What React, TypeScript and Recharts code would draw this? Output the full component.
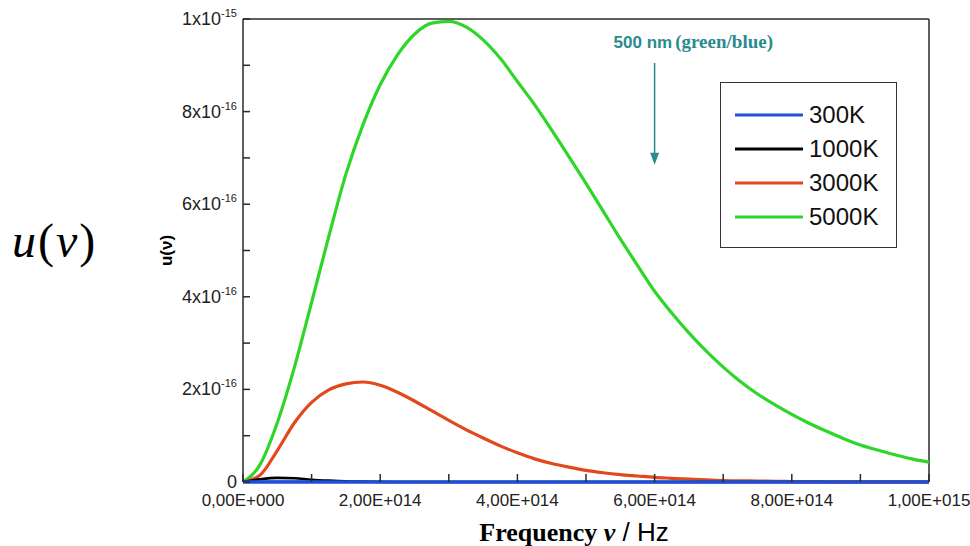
import { LineChart, Line, XAxis, YAxis, ReferenceLine, Legend } from 'recharts';

// frequency in units of 1e14 Hz, energy density u(v) in units of 1e-16
const freq = [
  0, 0.25, 0.5, 0.75, 1, 1.25, 1.5, 1.75, 2, 2.25, 2.5, 2.75, 3, 3.25, 3.5, 3.75, 4, 4.25, 4.5, 4.75, 5,
  5.25, 5.5, 5.75, 6, 6.25, 6.5, 6.75, 7, 7.25, 7.5, 7.75, 8, 8.25, 8.5, 8.75, 9, 9.25, 9.5, 9.75, 10,
];
const u300K = [
  0, 0.001, 0.002, 0.001, 0.001, 0, 0, 0, 0, 0, 0, 0, 0, 0, 0, 0, 0, 0, 0, 0, 0,
  0, 0, 0, 0, 0, 0, 0, 0, 0, 0, 0, 0, 0, 0, 0, 0, 0, 0, 0, 0,
];
const u1000K = [
  0, 0.06, 0.09, 0.08, 0.05, 0.03, 0.015, 0.008, 0.003, 0, 0, 0, 0, 0, 0, 0, 0, 0, 0, 0, 0,
  0, 0, 0, 0, 0, 0, 0, 0, 0, 0, 0, 0, 0, 0, 0, 0, 0, 0, 0, 0,
];
const u3000K = [
  0, 0.15, 0.68, 1.28, 1.72, 1.99, 2.12, 2.16, 2.09, 1.94, 1.75, 1.54, 1.33, 1.13, 0.95, 0.78, 0.63, 0.5, 0.4, 0.32, 0.25,
  0.2, 0.16, 0.13, 0.1, 0.08, 0.06, 0.045, 0.03, 0.025, 0.02, 0.015, 0.01, 0.008, 0.005, 0.004, 0.003, 0.002, 0.001, 0.001, 0,
];
const u5000K = [
  0, 0.38, 1.28, 2.48, 3.88, 5.3, 6.65, 7.72, 8.58, 9.22, 9.67, 9.91, 9.95, 9.83, 9.55, 9.15, 8.65, 8.15, 7.6, 7.03, 6.45,
  5.85, 5.25, 4.68, 4.12, 3.65, 3.22, 2.83, 2.48, 2.17, 1.9, 1.67, 1.46, 1.27, 1.1, 0.94, 0.8, 0.69, 0.59, 0.5, 0.43,
];

const seriesNames = ['300K', '1000K', '3000K', '5000K'];
const seriesColors = ['#1f4fd6', '#000000', '#e2481c', '#2fd62a'];

const xTicks = [0, 1, 2, 3, 4, 5, 6, 7, 8, 9, 10];
const xTickLabels = ['0,00E+000', '2,00E+014', '4,00E+014', '6,00E+014', '8,00E+014', '1,00E+015'];
const yTicks = [0, 1, 2, 3, 4, 5, 6, 7, 8, 9, 10];
const yTickBases = ['0', '2x10', '4x10', '6x10', '8x10', '1x10'];
const yTickExps = ['', '-16', '-16', '-16', '-16', '-15'];

const markerFreq = 6; // 500 nm
const markerTop = 9.05;
const markerTip = 6.85;

const sans = '"Liberation Sans", Arial, sans-serif';
const serif = '"Liberation Serif", "Times New Roman", serif';
const axisColor = '#2a2a2a';
const teal = '#2a8a8e';
const tickStyle = { stroke: axisColor, strokeWidth: 1.5 };

const chartData = freq.map((f, i) => ({
  f,
  t300: u300K[i],
  t1000: u1000K[i],
  t3000: u3000K[i],
  t5000: u5000K[i],
}));

// tick lines are drawn by recharts (pointing inward), these only draw the labels
function BottomTick({ x, y, payload }: any) {
  const v = payload.value;
  if (v % 2 !== 0) return <g />;
  return (
    <text x={x} y={y + 24} textAnchor="middle" fontFamily={sans} fontSize={17} fill="#222">
      {xTickLabels[v / 2]}
    </text>
  );
}

function LeftTick({ x, y, payload }: any) {
  const v = payload.value;
  if (v % 2 !== 0) return <g />;
  const idx = v / 2;
  return (
    <text x={x} y={y + 6} textAnchor="end" fontFamily={sans} fontSize={18} fill="#222">
      {yTickBases[idx]}
      {yTickExps[idx] && (
        <tspan dy={-8} fontSize={11}>
          {yTickExps[idx]}
        </tspan>
      )}
    </text>
  );
}

function ArrowNote(props: any) {
  const { x1, y1, x2, y2 } = props;
  return (
    <g>
      <text x={x1 - 41} y={y1 - 15} fill={teal}>
        <tspan fontFamily={sans} fontWeight="bold" fontSize={17}>500 nm</tspan>
        <tspan dx={3} fontFamily={serif} fontWeight="bold" fontSize={19}>(green/blue)</tspan>
      </text>
      <line x1={x1} y1={y1} x2={x2} y2={y2 - 10} stroke={teal} strokeWidth={1.5} />
      <path d={`M${x2 - 4.5},${y2 - 12} L${x2 + 4.5},${y2 - 12} L${x2},${y2} Z`} fill={teal} />
    </g>
  );
}

function LegendBox() {
  return (
    <div
      style={{
        width: 177,
        height: 166,
        border: '1.5px solid #333',
        boxSizing: 'border-box',
        background: '#fff',
        paddingTop: 15,
      }}
    >
      {seriesNames.map((n, i) => (
        <div key={n} style={{ display: 'flex', alignItems: 'center', height: 34 }}>
          <svg width={74} height={6} style={{ marginLeft: 14, display: 'block' }}>
            <line x1={0} x2={68} y1={3} y2={3} stroke={seriesColors[i]} strokeWidth={3} />
          </svg>
          <span style={{ fontFamily: sans, fontSize: 24, color: '#111', lineHeight: '34px' }}>{n}</span>
        </div>
      ))}
    </div>
  );
}

export default function App() {
  return (
    <div style={{ position: 'absolute', left: 0, top: 0, width: 970, height: 546, background: '#fff' }}>
      <svg width={160} height={546} style={{ position: 'absolute', left: 0, top: 0 }}>
        <text x={12} y={257} fontFamily={serif} fontSize={48} fill="#000" letterSpacing={2}>
          <tspan fontStyle="italic">u</tspan>
          <tspan>(</tspan>
          <tspan fontStyle="italic">ν</tspan>
          <tspan>)</tspan>
        </text>
      </svg>
      <LineChart
        width={970}
        height={546}
        data={chartData}
        margin={{ top: 18, right: 41, bottom: 34, left: 163 }}
        style={{ position: 'absolute', left: 0, top: 0 }}
      >
        <XAxis
          dataKey="f"
          type="number"
          domain={[0, 10]}
          ticks={xTicks}
          interval={0}
          height={30}
          tickSize={-8}
          tickMargin={8}
          tickLine={tickStyle}
          tick={(p: any) => <BottomTick {...p} />}
          axisLine={{ stroke: seriesColors[0], strokeWidth: 3 }}
          label={{
            content: ({ viewBox }: any) => (
              <text x={viewBox.x + viewBox.width / 2 - 12} y={viewBox.y + 59} textAnchor="middle" fill="#000" fontSize={26}>
                <tspan fontFamily={serif} fontWeight="bold">Frequency </tspan>
                <tspan fontFamily={serif} fontWeight="bold" fontStyle="italic">ν</tspan>
                <tspan fontFamily={sans}>  / Hz</tspan>
              </text>
            ),
          }}
        />
        <XAxis
          xAxisId="top"
          orientation="top"
          dataKey="f"
          type="number"
          domain={[0, 10]}
          ticks={xTicks}
          interval={0}
          height={1}
          tickSize={-7}
          tickMargin={0}
          tickLine={tickStyle}
          tick={false}
          axisLine={{ stroke: axisColor, strokeWidth: 1.5 }}
        />
        <YAxis
          type="number"
          domain={[0, 10]}
          ticks={yTicks}
          interval={0}
          width={80}
          tickSize={-7}
          tickMargin={13}
          tickLine={tickStyle}
          tick={(p: any) => <LeftTick {...p} />}
          axisLine={{ stroke: axisColor, strokeWidth: 1.5 }}
          label={{
            content: ({ viewBox }: any) => {
              const cx = viewBox.x + 3;
              const cy = viewBox.y + viewBox.height / 2;
              return (
                <text
                  x={cx}
                  y={cy}
                  transform={`rotate(-90 ${cx} ${cy})`}
                  textAnchor="middle"
                  dominantBaseline="central"
                  fontFamily={sans}
                  fontWeight="bold"
                  fontSize={17}
                  fill="#000"
                >
                  u(ν)
                </text>
              );
            },
          }}
        />
        <ReferenceLine x={10} stroke={axisColor} strokeWidth={1.5} ifOverflow="visible" />
        <ReferenceLine
          segment={[
            { x: markerFreq, y: markerTop },
            { x: markerFreq, y: markerTip },
          ]}
          ifOverflow="visible"
          shape={(p: any) => <ArrowNote {...p} />}
        />
        <Line type="monotone" dataKey="t5000" name={seriesNames[3]} stroke={seriesColors[3]} strokeWidth={3.2} dot={false} isAnimationActive={false} />
        <Line type="monotone" dataKey="t3000" name={seriesNames[2]} stroke={seriesColors[2]} strokeWidth={3.2} dot={false} isAnimationActive={false} />
        <Line type="monotone" dataKey="t1000" name={seriesNames[1]} stroke={seriesColors[1]} strokeWidth={2.6} dot={false} isAnimationActive={false} />
        <Line type="monotone" dataKey="t300" name={seriesNames[0]} stroke={seriesColors[0]} strokeWidth={3.2} dot={false} isAnimationActive={false} />
        <Legend
          layout="horizontal"
          verticalAlign="middle"
          align="center"
          content={<LegendBox />}
          wrapperStyle={{ left: 720, top: 82, width: 177, height: 166 }}
        />
      </LineChart>
    </div>
  );
}
